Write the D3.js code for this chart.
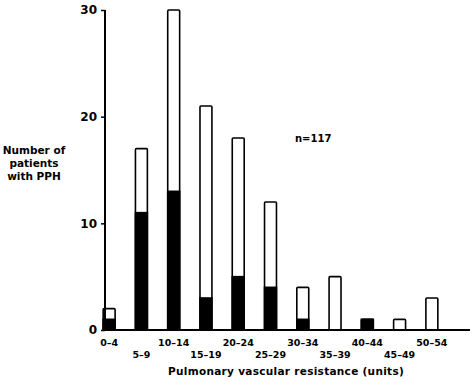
<!DOCTYPE html>
<html><head><meta charset="utf-8">
<script src="https://cdn.jsdelivr.net/npm/d3@7"></script>
<style>body{margin:0;background:#fff}svg{display:block}text{font-family:"DejaVu Sans",sans-serif;font-weight:bold;fill:#000}</style>
</head><body>
<script>
const categories = ["0-4","5-9","10-14","15-19","20-24","25-29","30-34","35-39","40-44","45-49","50-54"];
const totalPatients = [2,17,30,21,18,12,4,5,1,1,3];
const blackPatients = [1,11,13,3,5,4,1,0,1,0,0];
const yTicks = [0,10,20,30];

const W=474,H=380;
const svg=d3.select("body").append("svg").attr("width",W).attr("height",H);
const y=d3.scaleLinear().domain([0,30]).range([330,10]);
const x=d3.scaleBand().domain(categories).range([93,448]).paddingInner(0.63).paddingOuter(0.315);

// bars
const g=svg.append("g");
g.selectAll("rect.tot").data(categories).join("rect")
  .attr("x",d=>x(d)).attr("width",x.bandwidth())
  .attr("y",(d,i)=>y(totalPatients[i])).attr("height",(d,i)=>y(0)-y(totalPatients[i]))
  .attr("fill","#fff").attr("stroke","#000").attr("stroke-width",1.6).attr("rx",1);
g.selectAll("rect.blk").data(categories).join("rect")
  .attr("x",d=>x(d)).attr("width",x.bandwidth())
  .attr("y",(d,i)=>y(blackPatients[i])).attr("height",(d,i)=>y(0)-y(blackPatients[i]))
  .attr("fill","#000").attr("stroke","#000").attr("stroke-width",1.6);

// y axis
const ya=svg.append("g").attr("transform","translate(105,0)")
  .call(d3.axisLeft(y).tickValues(yTicks).tickSize(4).tickPadding(4).tickFormat(d3.format("d")));
ya.select(".domain").attr("stroke-width",2).attr("d","M0,10V330");
ya.selectAll(".tick line").attr("stroke-width",1.5);
ya.selectAll("text").style("font-size","12px");

// x baseline
svg.append("line").attr("x1",105).attr("x2",470).attr("y1",y(0)).attr("y2",y(0)).attr("stroke","#000").attr("stroke-width",2);

// x labels alternating
svg.selectAll("text.xl").data(categories).join("text")
  .attr("x",d=>x(d)+x.bandwidth()/2)
  .attr("y",(d,i)=>i%2===0?346:358)
  .attr("text-anchor","middle").style("font-size","9.5px").text(d=>d.replace("-","–"));

svg.append("text").attr("x",286).attr("y",375).attr("text-anchor","middle").style("font-size","10.5px").attr("letter-spacing","0.3")
  .text("Pulmonary vascular resistance (units)");

const yl=["Number of","patients","with PPH"];
svg.selectAll("text.yl").data(yl).join("text").attr("x",34).attr("y",(d,i)=>154+i*13)
  .attr("text-anchor","middle").style("font-size","10.5px").text(d=>d);

svg.append("text").attr("x",295).attr("y",142).style("font-size","10px").text("n=117");
</script>
</body></html>
